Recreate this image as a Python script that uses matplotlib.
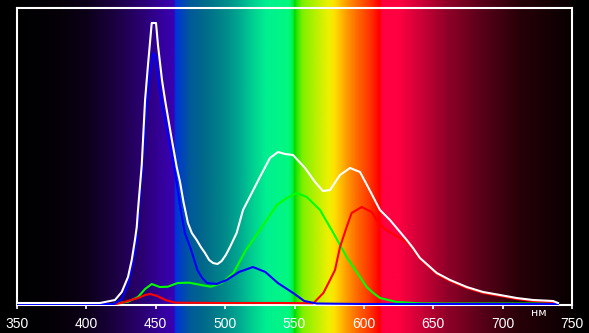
import numpy as np
import matplotlib
matplotlib.use("Agg")
import matplotlib.pyplot as plt
from matplotlib.colors import LinearSegmentedColormap

# ---- data (wavelength in nm, relative intensity) ----
white_wl = [350, 409.8, 413.4, 420.6, 425.5, 430, 432.7, 435, 436.3, 437.2, 439.9, 442.3, 444.4,
            447.1, 450.2, 451.6, 454.5, 456.7, 461, 465.1, 467.5, 470, 473.2, 476, 479.5, 482.5,
            485.5, 488.5, 491.3, 494.5, 497.5, 500.5, 503.5, 508.3, 512.9, 519.2, 525.1, 532.3,
            538.1, 543.2, 548.9, 557.6, 564.8, 570.5, 575.6, 582.8, 590, 597.2, 603, 611.6,
            618.8, 630.9, 635.4, 640.4, 652.5, 662.1, 674.1, 685.9, 698.1, 710.1, 721.9, 736.3,
            739.9]
white_val = [2, 2, 3, 5, 13, 28, 45, 65, 78, 95, 140, 205, 240,
             282, 282, 260, 225, 205, 170, 138, 123, 103, 82, 72, 65, 58,
             52, 45, 42, 41, 44, 50, 58, 72, 95, 112, 128, 147,
             153, 151, 150, 137, 123, 114, 115, 130, 137, 133, 118, 95,
             85, 65, 57, 47, 32, 25, 18, 13, 10, 7, 5, 4,
             2]

blue_wl = [350, 420, 425.5, 430, 433, 436, 438, 440.5, 443.5, 446, 448, 450, 452, 454.5,
           456.5, 461, 465.1, 468, 471, 475.5, 480, 483.5, 487, 494, 501, 510, 520, 529,
           538, 549, 557, 566, 600, 700, 739.9]
blue_val = [1, 1, 6, 20, 38, 62, 96, 138, 200, 232, 252, 248, 225, 200,
            188, 155, 122, 95, 72, 55, 35, 27, 22, 21, 25, 33, 38, 33,
            22, 12, 4, 1.5, 1, 1, 1]

green_wl = [350, 415, 419, 430, 437.2, 442.3, 447.1, 452.9, 458.7, 465.8, 474.1, 482.6, 489.8,
            497.5, 506, 515, 525.1, 537.2, 544.4, 551.6, 558.8, 568.4, 578, 587.6, 597.2,
            602, 606.8, 611.6, 623.6, 640, 660, 700, 739.9]
green_val = [0.5, 0.5, 1, 3.3, 8, 16, 21, 18, 18.3, 22, 22.3, 20, 18.3,
             22, 32, 55, 75, 100, 107, 112, 108, 95, 72, 48, 28,
             18, 12, 7, 3, 1.7, 1.5, 1.5, 1.5]

red_wl = [350, 420, 425.5, 437.2, 442.3, 446, 451, 457, 464, 500, 540, 563.6, 570.8, 575.6,
          579.2, 582.8, 587.6, 591.2, 598.4, 605.6, 609.2, 615, 622, 630.9, 635.4, 640.4,
          652.5, 662.1, 674.1, 685.9, 698.1, 710.1, 721.9, 736.3, 739.9]
red_val = [0.5, 0.5, 2.3, 7, 10, 11, 9, 5, 2.3, 2, 2, 1.7, 12, 25,
           35, 58, 78, 92, 98, 93, 85, 76, 70, 63, 56, 46,
           31, 24, 17, 12, 9, 6, 4, 3, 1.5]

x_ticks = [350, 400, 450, 500, 550, 600, 650, 700, 750]
unit_label = "нм"

# spectrum background stops (wavelength, colour)
spec_stops = [(350, "#000000"), (380, "#050008"), (400, "#0c0018"), (420, "#1a0040"),
              (440, "#2a0070"), (455, "#3500a0"), (463, "#3a00b0"), (464, "#0030e0"),
              (468, "#0040c0"), (475, "#005a98"), (485, "#006a8a"), (500, "#008a8a"),
              (510, "#00a890"), (520, "#00d090"), (530, "#00f090"), (546, "#00f880"),
              (549, "#00f040"), (550, "#00d800"), (552, "#30e800"), (556, "#80f000"),
              (568, "#c8f000"), (575, "#f0f000"), (579, "#ffe000"), (587, "#ffa000"),
              (594, "#ff7000"), (605, "#ff3000"), (610, "#ff0800"), (611, "#ff0000"),
              (612, "#ff0000"), (613, "#ff0040"), (625, "#ff0040"), (640, "#d00038"),
              (660, "#900028"), (685, "#580018"), (712, "#280008"), (740, "#100004"),
              (750, "#080000")]

# ---- figure ----
W, H = 589, 333
fig = plt.figure(figsize=(W / 100, H / 100), dpi=100, facecolor="black")

x0, x1 = 17, 572
ytop, ybot = 8, 305

cmap = LinearSegmentedColormap.from_list(
    "spec", [((w - 350) / 400, c) for w, c in spec_stops], N=2048)
bg = fig.add_axes([x0 / W, 0, (x1 - x0) / W, 1])
grad = np.linspace(350, 750, 2000).reshape(1, -1)
bg.imshow(grad, cmap=cmap, vmin=350, vmax=750, aspect="auto",
          extent=[350, 750, 0, 1], interpolation="bilinear")
bg.set_xlim(350, 750)
bg.set_axis_off()

ax = fig.add_axes([x0 / W, (H - ybot) / H, (x1 - x0) / W, (ybot - ytop) / H])
ax.set_facecolor("none")
ax.set_xlim(350, 750)
ax.set_ylim(0, 297)

lw = 1.5
ax.plot(green_wl, green_val, color="#00ff00", lw=lw, zorder=3)
ax.plot(red_wl, red_val, color="#ff0000", lw=lw, zorder=4)
ax.plot(blue_wl, blue_val, color="#0000ff", lw=lw, zorder=5)
ax.plot(white_wl, white_val, color="#ffffff", lw=lw, zorder=6)

for s in ax.spines.values():
    s.set_color("white")
    s.set_linewidth(1.5)
ax.set_xticks(x_ticks)
ax.set_xticklabels([str(t) for t in x_ticks])
ax.tick_params(axis="x", colors="white", direction="out", length=3, width=1.2,
               labelsize=10, pad=6, labelcolor="white")
for lab in ax.get_xticklabels():
    lab.set_family("Liberation Sans")
ax.set_yticks([])

ax.text(726, -3, unit_label, color="white", fontsize=8, ha="center", va="top",
        family="DejaVu Sans", clip_on=False)

fig.savefig("out.png", dpi=100, facecolor="black")
